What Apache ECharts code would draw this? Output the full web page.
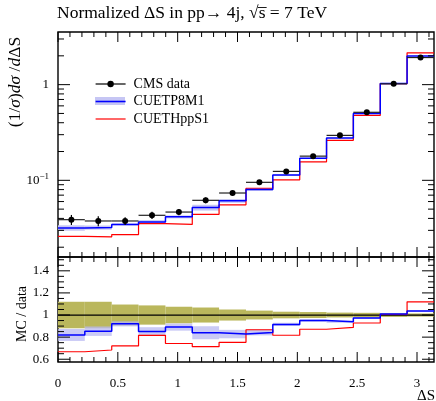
<!DOCTYPE html>
<html><head><meta charset="utf-8">
<script src="https://cdn.jsdelivr.net/npm/echarts@6/dist/echarts.min.js"></script>
<style>html,body{margin:0;padding:0;background:#fff}#c{width:436px;height:401px}</style>
</head><body><div id="c"></div>
<script>
// ---- data ----
const binEdges = [0, 0.224, 0.449, 0.673, 0.898, 1.122, 1.346, 1.571, 1.795, 2.020, 2.244, 2.468, 2.693, 2.917, 3.142];
const cmsData   = [0.0388, 0.0376, 0.0376, 0.0431, 0.0466, 0.0618, 0.0737, 0.0953, 0.124, 0.179, 0.295, 0.514, 1.02, 1.92];
const cmsRelErr = [0.12, 0.12, 0.095, 0.087, 0.075, 0.068, 0.05, 0.04, 0.03, 0.027, 0.022, 0.02, 0.017, 0.014];
const p8m1      = [0.0318, 0.0321, 0.0346, 0.0367, 0.0415, 0.0519, 0.0610, 0.0803, 0.1135, 0.170, 0.277, 0.500, 1.03, 1.99];
const p8m1RelErr= [0.066, 0.05, 0.025, 0.045, 0.036, 0.07, 0.046, 0.032, 0.016, 0.012, 0.01, 0.008, 0.006, 0.005];
const hpps1     = [0.0259, 0.0257, 0.0271, 0.0352, 0.0346, 0.0441, 0.0555, 0.0826, 0.1013, 0.156, 0.262, 0.477, 1.025, 2.15];
const xMajorTicks = [0, 0.5, 1, 1.5, 2, 2.5, 3];
const xMinorTicks = [0.1,0.2,0.3,0.4,0.6,0.7,0.8,0.9,1.1,1.2,1.3,1.4,1.6,1.7,1.8,1.9,2.1,2.2,2.3,2.4,2.6,2.7,2.8,2.9,3.1];
const yMainMajor = [0.1, 1];
const yMainMinor = [0.02,0.03,0.04,0.05,0.06,0.07,0.08,0.09,0.2,0.3,0.4,0.5,0.6,0.7,0.8,0.9,2,3];
const yRatioMajor = [0.6, 0.8, 1, 1.2, 1.4];
const yRatioMinor = [0.65,0.7,0.75,0.85,0.9,0.95,1.05,1.1,1.15,1.25,1.3,1.35,1.45,1.5];
const seriesNames = ['CMS data', 'CUETP8M1', 'CUETHppS1'];

// ---- styles ----
const FONT = 'Liberation Serif';
const X_MIN = 0, X_MAX = 3.142;
const Y_MIN = 0.0158, Y_MAX = 3.55;
const R_MIN = 0.575, R_MAX = 1.525;
const BLUE = '#0000ff', RED = '#ff0000', BLUEBAND = '#c6c6f4', OLIVE = '#bab75c';

function stepLine(values) {
  const pts = values.map((v, i) => [binEdges[i], v]);
  pts.push([binEdges[binEdges.length - 1], values[values.length - 1]]);
  return pts;
}
function bandData(center, relErr) {
  return center.map((v, i) => [binEdges[i], binEdges[i + 1], v * (1 - relErr[i]), v * (1 + relErr[i])]);
}
function rectRender(color, opacity) {
  return function (params, api) {
    const p0 = api.coord([api.value(0), api.value(3)]);
    const p1 = api.coord([api.value(1), api.value(2)]);
    return { type: 'rect', shape: { x: p0[0], y: p0[1], width: p1[0] - p0[0], height: p1[1] - p0[1] },
             style: { fill: color, opacity: opacity } };
  };
}
const centers = binEdges.slice(0, -1).map((e, i) => (e + binEdges[i + 1]) / 2);
const ratioData = cmsData.map((v, i) => v / cmsData[i]);
const ratioP8 = p8m1.map((v, i) => v / cmsData[i]);
const ratioH = hpps1.map((v, i) => v / cmsData[i]);

// tick marks drawn inward on all four sides, positioned by the axes' own scales
function xTickSeries(ax, ticks, len, yLo, yHi) {
  return { type: 'custom', xAxisIndex: ax, yAxisIndex: ax, clip: false, silent: true, z: 20,
    encode: { x: 0, y: 1 }, data: ticks.map(v => [v, yLo]),
    renderItem: function (params, api) {
      const x = api.value(0);
      const pb = api.coord([x, yLo]), pt = api.coord([x, yHi]);
      return { type: 'group', children: [
        { type: 'line', shape: { x1: pb[0], y1: pb[1], x2: pb[0], y2: pb[1] - len }, style: { stroke: '#000', lineWidth: 1 } },
        { type: 'line', shape: { x1: pt[0], y1: pt[1], x2: pt[0], y2: pt[1] + len }, style: { stroke: '#000', lineWidth: 1 } }
      ] };
    } };
}
function yTickSeries(ax, ticks, len) {
  return { type: 'custom', xAxisIndex: ax, yAxisIndex: ax, clip: false, silent: true, z: 20,
    encode: { x: 0, y: 1 }, data: ticks.map(v => [X_MIN, v]),
    renderItem: function (params, api) {
      const y = api.value(1);
      const pl = api.coord([X_MIN, y]), pr = api.coord([X_MAX, y]);
      return { type: 'group', children: [
        { type: 'line', shape: { x1: pl[0], y1: pl[1], x2: pl[0] + len, y2: pl[1] }, style: { stroke: '#000', lineWidth: 1 } },
        { type: 'line', shape: { x1: pr[0], y1: pr[1], x2: pr[0] - len, y2: pr[1] }, style: { stroke: '#000', lineWidth: 1 } }
      ] };
    } };
}

const noTick = { show: false };
const xAxisBase = { type: 'value', min: X_MIN, max: X_MAX, axisLine: { show: false, onZero: false },
  axisTick: noTick, splitLine: { show: false } };

const chart = echarts.init(document.getElementById('c'), null, { renderer: 'canvas' });
const option = {
  animation: false,
  backgroundColor: '#fff',
  title: {
    text: 'Normalized \u0394S in pp\u2192 4j, \u221As\u0305 = 7 TeV',
    left: 57, top: 4, padding: 0,
    textStyle: { fontFamily: FONT, fontSize: 17.5, fontWeight: 'normal', color: '#000' }
  },
  grid: [
    { left: 58, top: 32, right: 2, height: 225, show: true, borderColor: '#000', borderWidth: 1.4, backgroundColor: 'transparent' },
    { left: 58, top: 257, right: 2, height: 105, show: true, borderColor: '#000', borderWidth: 1.4, backgroundColor: 'transparent' }
  ],
  xAxis: [
    Object.assign({}, xAxisBase, { gridIndex: 0, position: 'bottom', axisLabel: { show: false } }),
    Object.assign({}, xAxisBase, { gridIndex: 1, position: 'bottom',
      axisLabel: { show: true, customValues: xMajorTicks, margin: 15, color: '#000', fontFamily: FONT, fontSize: 13,
                   formatter: v => String(v) } })
  ],
  yAxis: [
    { type: 'log', logBase: 10, gridIndex: 0, min: Y_MIN, max: Y_MAX,
      axisLine: { show: false, onZero: false }, axisTick: noTick, splitLine: { show: false },
      axisLabel: { show: true, customValues: yMainMajor, margin: 9, color: '#000', fontFamily: FONT, fontSize: 13,
        formatter: v => (v > 0.5 ? '1' : '{b|10}{s|\u22121}'),
        rich: { b: { fontFamily: FONT, fontSize: 13, color: '#000' },
                s: { fontFamily: FONT, fontSize: 9, color: '#000', verticalAlign: 'top', padding: [0, 0, 7, 0] } } } },
    { type: 'value', gridIndex: 1, min: R_MIN, max: R_MAX,
      axisLine: { show: false, onZero: false }, axisTick: noTick, splitLine: { show: false },
      axisLabel: { show: true, customValues: yRatioMajor, margin: 9, color: '#000', fontFamily: FONT, fontSize: 13,
        formatter: v => String(Math.round(v * 10) / 10) } }
  ],
  legend: {
    orient: 'vertical', left: 95, top: 77, padding: 0, itemWidth: 30, itemHeight: 8, itemGap: 3.5,
    selectedMode: false,
    textStyle: { fontFamily: FONT, fontSize: 14, color: '#000', padding: [0, 0, 0, 3] },
    data: [
      { name: seriesNames[0], lineStyle: { opacity: 1, color: '#000', width: 1.2 }, itemStyle: { color: '#000' } },
      { name: seriesNames[1], icon: 'path://M0,0L0,0M0,3.2L30,3.2L30,4.8L0,4.8ZM30,8L30,8' },
      { name: seriesNames[2], icon: 'path://M0,0L0,0M0,3.4L30,3.4L30,4.6L0,4.6ZM30,8L30,8' }
    ]
  },
  graphic: [
    { type: 'rect', left: 95, top: 97, shape: { width: 30, height: 8 }, style: { fill: BLUEBAND }, z: 0 },
    { type: 'text', x: 15, y: 82, rotation: Math.PI / 2,
      style: { text: '(1/{i|\u03C3}){i|d\u03C3} /{i|d}\u0394S', fill: '#000', font: '17.5px ' + FONT,
               align: 'center', verticalAlign: 'middle',
               rich: { i: { fontStyle: 'italic', fontFamily: FONT, fontSize: 17.5, fill: '#000' } } } },
    { type: 'text', x: 22, y: 314, rotation: Math.PI / 2,
      style: { text: 'MC / data', fill: '#000', font: '14px ' + FONT, align: 'center', verticalAlign: 'middle' } },
    { type: 'text', x: 435, y: 396,
      style: { text: '\u0394S', fill: '#000', font: '15px ' + FONT, align: 'right', verticalAlign: 'middle' } }
  ],
  series: [
    // main panel
    { name: 'CUETP8M1 band', type: 'custom', xAxisIndex: 0, yAxisIndex: 0, clip: true, z: 1,
      encode: { x: [0, 1], y: [2, 3] }, data: bandData(p8m1, p8m1RelErr), renderItem: rectRender(BLUEBAND, 1) },
    { name: seriesNames[2], type: 'line', xAxisIndex: 0, yAxisIndex: 0, step: 'end', symbol: 'none',
      color: RED, lineStyle: { color: RED, width: 1.2 }, data: stepLine(hpps1), z: 3 },
    { name: seriesNames[1], type: 'line', xAxisIndex: 0, yAxisIndex: 0, step: 'end', symbol: 'none',
      color: BLUE, lineStyle: { color: BLUE, width: 1.5 }, data: stepLine(p8m1), z: 4 },
    { name: 'CMS errors', type: 'custom', xAxisIndex: 0, yAxisIndex: 0, clip: true, z: 5,
      encode: { x: [0, 1], y: [2, 3, 4] },
      data: cmsData.map((v, i) => [binEdges[i], binEdges[i + 1], v * (1 - cmsRelErr[i]), v * (1 + cmsRelErr[i]), v]),
      renderItem: function (params, api) {
        const x0 = api.value(0), x1 = api.value(1), lo = api.value(2), hi = api.value(3), v = api.value(4);
        const xc = (x0 + x1) / 2;
        const a = api.coord([x0, v]), b = api.coord([x1, v]), c = api.coord([xc, lo]), d = api.coord([xc, hi]);
        return { type: 'group', children: [
          { type: 'line', shape: { x1: a[0], y1: a[1], x2: b[0], y2: b[1] }, style: { stroke: '#222', lineWidth: 1.2 } },
          { type: 'line', shape: { x1: c[0], y1: c[1], x2: d[0], y2: d[1] }, style: { stroke: '#000', lineWidth: 1.2 } }
        ] };
      } },
    { name: seriesNames[0], type: 'line', xAxisIndex: 0, yAxisIndex: 0, symbol: 'circle', symbolSize: 6,
      showSymbol: true, color: '#000', itemStyle: { color: '#000' }, lineStyle: { opacity: 0 },
      data: centers.map((c, i) => [c, cmsData[i]]), z: 6 },
    // ratio panel
    { name: 'data band', type: 'custom', xAxisIndex: 1, yAxisIndex: 1, clip: true, z: 1,
      encode: { x: [0, 1], y: [2, 3] }, data: bandData(ratioData, cmsRelErr), renderItem: rectRender(OLIVE, 1) },
    { name: 'CUETP8M1 ratio band', type: 'custom', xAxisIndex: 1, yAxisIndex: 1, clip: true, z: 2,
      encode: { x: [0, 1], y: [2, 3] }, data: bandData(ratioP8, p8m1RelErr), renderItem: rectRender('#b8b8f2', 0.75) },
    { name: 'data ratio', type: 'line', xAxisIndex: 1, yAxisIndex: 1, step: 'end', symbol: 'none',
      lineStyle: { color: '#000', width: 1.2 }, data: stepLine(ratioData), z: 3 },
    { name: 'CUETHppS1 ratio', type: 'line', xAxisIndex: 1, yAxisIndex: 1, step: 'end', symbol: 'none',
      lineStyle: { color: RED, width: 1.2 }, data: stepLine(ratioH), z: 4 },
    { name: 'CUETP8M1 ratio', type: 'line', xAxisIndex: 1, yAxisIndex: 1, step: 'end', symbol: 'none',
      lineStyle: { color: BLUE, width: 1.5 }, data: stepLine(ratioP8), z: 5 },
    // tick marks
    xTickSeries(0, xMajorTicks, 10, Y_MIN, Y_MAX),
    xTickSeries(0, xMinorTicks, 5, Y_MIN, Y_MAX),
    xTickSeries(1, xMajorTicks, 10, R_MIN, R_MAX),
    xTickSeries(1, xMinorTicks, 5, R_MIN, R_MAX),
    yTickSeries(0, yMainMajor, 12),
    yTickSeries(0, yMainMinor, 6),
    yTickSeries(1, yRatioMajor, 12),
    yTickSeries(1, yRatioMinor, 6)
  ]
};
chart.setOption(option);
</script>
</body></html>
